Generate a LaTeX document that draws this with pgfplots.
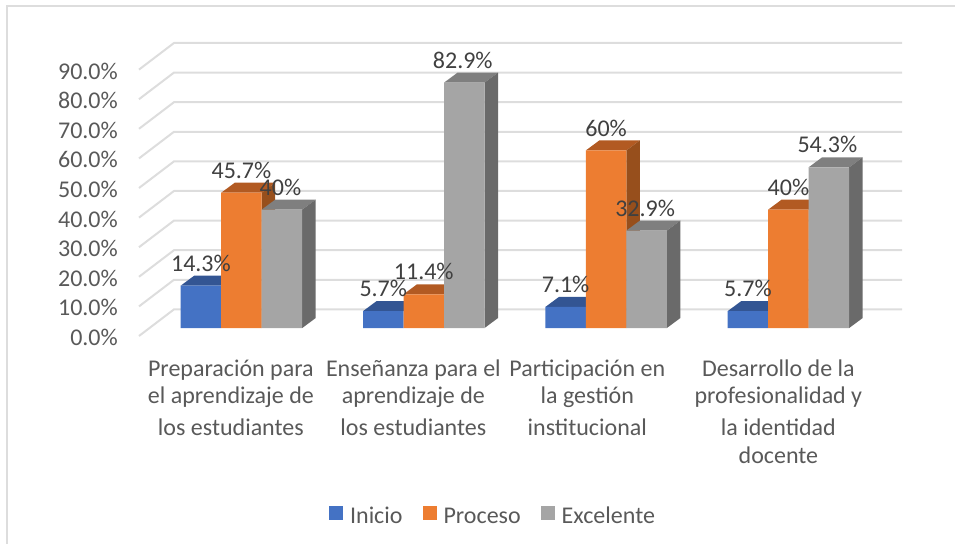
\documentclass[border=0pt]{standalone}
\usepackage{pgfplots}
\pgfplotsset{compat=1.18}
\usepackage{fontspec}
\setmainfont{Carlito}
\definecolor{cBlue}{HTML}{4472C4}
\definecolor{cBlueT}{HTML}{335593}
\definecolor{cBlueS}{HTML}{2B4A80}
\definecolor{cOrange}{HTML}{ED7D31}
\definecolor{cOrangeT}{HTML}{B25A22}
\definecolor{cOrangeS}{HTML}{974F1C}
\definecolor{cGrey}{HTML}{A5A5A5}
\definecolor{cGreyT}{HTML}{7F7F7F}
\definecolor{cGreyS}{HTML}{6A6A6A}
\definecolor{cGrid}{HTML}{DDDDDD}
\definecolor{cText}{HTML}{595959}
\definecolor{cLabel}{HTML}{404040}
\begin{document}
\begin{tikzpicture}[x=1pt,y=1pt]
\useasboundingbox (-139,336-544) rectangle (955-139,336);
\draw[draw=cGrid,line width=2pt] (955-139,336-6) -- (7.5-139,336-6) -- (7.5-139,336-544);
\begin{axis}[
  at={(0pt,0pt)},anchor=south west,
  scale only axis,width=763pt,height=293.3pt,
  xmin=-0.562,xmax=3.623,ymin=-2.7,ymax=96.39,
  clip=false,unbounded coords=jump,
  axis line style={draw=none},major tick length=0pt,
  xtick={-0.058,0.943,1.897,2.945},
  xticklabels={
    {Preparación para\\[-2pt]el aprendizaje de\\[3pt]los estudiantes},
    {Enseñanza para el\\[-2pt]aprendizaje de\\[3pt]los estudiantes},
    {Participación en\\[-2pt]la gestión\\[3pt]institucional},
    {Desarrollo de la\\[-2pt]profesionalidad y\\[3pt]la identidad\\[-1pt]docente}},
  x tick label style={align=center,anchor=north,font=\fontsize{24}{29}\selectfont,text=cText,inner sep=0pt,yshift=-24pt},
  ytick={-2.7,7.3,17.3,27.3,37.3,47.3,57.3,67.3,77.3,87.3},
  yticklabels={0.0\%,10.0\%,20.0\%,30.0\%,40.0\%,50.0\%,60.0\%,70.0\%,80.0\%,90.0\%},
  y tick label style={anchor=east,font=\fontsize{24}{27}\selectfont,text=cText,inner sep=0pt,xshift=-21pt,yshift=-1.5pt},
  legend columns=3,
  legend style={at={(0.464,-0.6145)},anchor=center,draw=none,fill=none,
    font=\fontsize{24}{28}\selectfont,text=cText,inner sep=0pt,
    /tikz/every even column/.append style={column sep=18pt},
    /tikz/every odd column/.append style={column sep=5pt}},
  sq/.style={legend image code/.code={\fill[##1] (0pt,-4pt) rectangle (14pt,10pt);}},
]
% gridlines on the wall and the floor side
\addplot[cGrid,line width=2pt,forget plot] coordinates {
(-0.562,-2.7)(-0.370,6.3)(3.623,6.3) (nan,nan)
(-0.562,7.3)(-0.370,16.3)(3.623,16.3) (nan,nan)
(-0.562,17.3)(-0.370,26.3)(3.623,26.3) (nan,nan)
(-0.562,27.3)(-0.370,36.3)(3.623,36.3) (nan,nan)
(-0.562,37.3)(-0.370,46.3)(3.623,46.3) (nan,nan)
(-0.562,47.3)(-0.370,56.3)(3.623,56.3) (nan,nan)
(-0.562,57.3)(-0.370,66.3)(3.623,66.3) (nan,nan)
(-0.562,67.3)(-0.370,76.3)(3.623,76.3) (nan,nan)
(-0.562,77.3)(-0.370,86.3)(3.623,86.3) (nan,nan)
(-0.562,87.3)(-0.370,96.3)(3.623,96.3)
};
% Inicio: top, side, front
\addplot[fill=cBlueT,draw=none,forget plot] coordinates {
(-0.3333,14.3)(-0.1111,14.3)(-0.0370,17.68)(-0.2592,17.68)(nan,nan)
(0.6667,5.7)(0.8889,5.7)(0.9630,9.08)(0.7408,9.08)(nan,nan)
(1.6667,7.1)(1.8889,7.1)(1.9630,10.48)(1.7408,10.48)(nan,nan)
(2.6667,5.7)(2.8889,5.7)(2.9630,9.08)(2.7408,9.08)
};
\addplot[ybar,bar width=40.5pt,bar shift=-40.5pt,fill=cBlue,draw=none,sq] coordinates {(0,14.3)(1,5.7)(2,7.1)(3,5.7)};
\addlegendentry{Inicio}
% Proceso
\addplot[fill=cOrangeT,draw=none,forget plot] coordinates {
(-0.1111,45.7)(0.1111,45.7)(0.1852,49.08)(-0.0370,49.08)(nan,nan)
(0.8889,11.4)(1.1111,11.4)(1.1852,14.78)(0.9630,14.78)(nan,nan)
(1.8889,60)(2.1111,60)(2.1852,63.38)(1.9630,63.38)(nan,nan)
(2.8889,40)(3.1111,40)(3.1852,43.38)(2.9630,43.38)
};
\addplot[fill=cOrangeS,draw=none,forget plot] coordinates {
(0.1111,0)(0.1111,45.7)(0.1852,49.08)(0.1852,3.38)(nan,nan)
(1.1111,0)(1.1111,11.4)(1.1852,14.78)(1.1852,3.38)(nan,nan)
(2.1111,0)(2.1111,60)(2.1852,63.38)(2.1852,3.38)(nan,nan)
(3.1111,0)(3.1111,40)(3.1852,43.38)(3.1852,3.38)
};
\addplot[ybar,bar width=40.5pt,bar shift=0pt,fill=cOrange,draw=none,sq] coordinates {(0,45.7)(1,11.4)(2,60)(3,40)};
\addlegendentry{Proceso}
% Excelente
\addplot[fill=cGreyT,draw=none,forget plot] coordinates {
(0.1111,40)(0.3333,40)(0.4074,43.38)(0.1852,43.38)(nan,nan)
(1.1111,82.9)(1.3333,82.9)(1.4074,86.28)(1.1852,86.28)(nan,nan)
(2.1111,32.9)(2.3333,32.9)(2.4074,36.28)(2.1852,36.28)(nan,nan)
(3.1111,54.3)(3.3333,54.3)(3.4074,57.68)(3.1852,57.68)
};
\addplot[fill=cGreyS,draw=none,forget plot] coordinates {
(0.3333,0)(0.3333,40)(0.4074,43.38)(0.4074,3.38)(nan,nan)
(1.3333,0)(1.3333,82.9)(1.4074,86.28)(1.4074,3.38)(nan,nan)
(2.3333,0)(2.3333,32.9)(2.4074,36.28)(2.4074,3.38)(nan,nan)
(3.3333,0)(3.3333,54.3)(3.4074,57.68)(3.4074,3.38)
};
\addplot[ybar,bar width=40.5pt,bar shift=40.5pt,fill=cGrey,draw=none,sq] coordinates {(0,40)(1,82.9)(2,32.9)(3,54.3)};
\addlegendentry{Excelente}
% data labels, drawn last so that they lie over every bar
\pgfplotsset{lbl/.style={ybar,bar width=40.5pt,draw=none,fill=none,forget plot,
  point meta=explicit symbolic,nodes near coords,
  every node near coord/.append style={anchor=center,yshift=22.5pt,xshift=#1,inner sep=0pt,text=cLabel,font=\fontsize{24}{28}\selectfont}}}
\addplot[lbl=-40.5pt,bar shift=-40.5pt] coordinates {(0,14.3)[14.3\%] (1,5.7)[5.7\%] (2,7.1)[7.1\%] (3,5.7)[5.7\%]};
\addplot[lbl=0pt,bar shift=0pt] coordinates {(0,45.7)[45.7\%] (1,11.4)[11.4\%] (2,60)[60\%] (3,40)[40\%]};
\addplot[lbl=39pt,bar shift=40.5pt] coordinates {(0,40)[40\%] (1,82.9)[82.9\%] (2,32.9)[32.9\%] (3,54.3)[54.3\%]};
\end{axis}
\end{tikzpicture}
\end{document}
